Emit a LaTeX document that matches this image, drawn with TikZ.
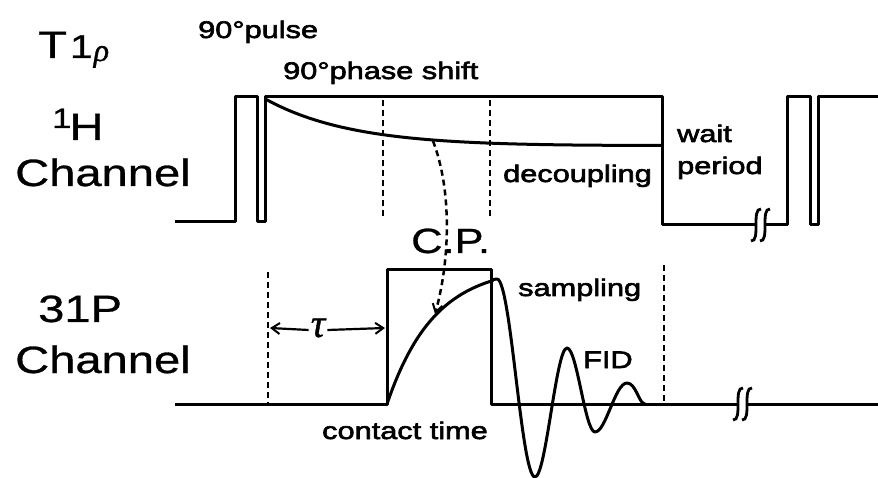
\documentclass[tikz,border=0pt]{standalone}
\usepackage{fontspec}
\setmainfont{Liberation Sans}
\newfontfamily\bigf[FakeStretch=1.24,FakeBold=0.8]{Liberation Sans}
\newfontfamily\smf[FakeStretch=1.28,FakeBold=2.6]{Liberation Sans}
\newfontfamily\grkf[FakeBold=1]{Liberation Serif}
\usetikzlibrary{arrows.meta}
\begin{document}
\begin{tikzpicture}[x=1pt,y=-1pt,
  wave/.style={line width=3pt, line join=round},
  guide/.style={line width=2.5pt, dash pattern=on 6pt off 4pt},
  big/.style={inner sep=0pt, anchor=base west, font=\bigf\fontsize{38}{38}\selectfont},
  lab/.style={inner sep=0pt, anchor=base west, font=\smf\fontsize{24}{24}\selectfont},
  grk/.style={inner sep=0pt, anchor=base west, font=\grkf\itshape\fontsize{40}{40}\selectfont},
  tipline/.style={line width=2.2pt, -{Straight Barb[length=8pt,width=11pt,line width=2pt]}},
  brk/.pic={\draw[line width=2.8pt] (5,-16) .. controls (-5,-17) and (5,17) .. (-5,16);}]
\useasboundingbox (0,0) rectangle (878,478);

% labels
\node[big] (T1rho) at (38,58) {T\hspace{3pt}{\fontsize{33}{33}\selectfont 1}\hspace{1pt}{\grkf\itshape\fontsize{32}{32}\selectfont\raisebox{-3pt}{ρ}}};
\node[lab] (pulse) at (198,38) {90°pulse};
\node[lab] (shift) at (283,79) {90°phase shift};
\node[big] (H) at (52,140) {{\fontsize{28}{28}\selectfont\raisebox{12pt}{1}}\hspace{-2pt}H};
\node[big] (chA) at (15,186) {Channel};
\node[lab] (dec) at (503,182) {decoupling};
\node[lab] (wait) at (677,142) {wait};
\node[lab] (period) at (677,174) {period};
\node[big, font=\bigf\fontsize{35}{35}\selectfont] (cp) at (411,253) {C.P.};
\node[big] (P31) at (38,322) {31P};
\node[big] (chB) at (15,373) {Channel};
\node[lab] (samp) at (518,296) {sampling};
\node[lab] (fid) at (583,368) {FID};
\node[lab] (contact) at (322,439) {contact time};
\node[grk, anchor=center] (tau) at (318,328) {τ};

% 1H channel
\draw[wave] (175,222) -- (235,222) -- (235,97) -- (257,97) -- (257,222) -- (265,222)
  -- (265,97) -- (662,97) -- (662,225) -- (756,225);
\draw[wave] (765,225) -- (787,225) -- (787,97) -- (810,97) -- (810,225) -- (818,225)
  -- (818,97) -- (880,97);
\pic at (756,225) {brk};
\pic at (765,225) {brk};
\draw[wave] plot[domain=266:662, samples=80] (\x, {147-0.006*(\x-490)-49*exp(-(\x-266)/88)});

% 31P channel
\draw[wave] (175,404) -- (387,404) -- (387,270) -- (491,270) -- (491,404) -- (738,404);
\draw[wave] (747,404) -- (880,404);
\pic at (738,404) {brk};
\pic at (747,404) {brk};
\draw[wave] plot[domain=387:491, samples=50] (\x, {404-138*(1-exp(-(\x-387)/47))});
\draw[wave] (491,283) .. controls (493,279) and (494,279) .. (497,279)
  .. controls (511,279) and (521,477) .. (535,477)
  .. controls (546,477) and (556,348) .. (567,348)
  .. controls (577,348) and (585,432) .. (595,432)
  .. controls (606,432) and (615,383) .. (627,383)
  .. controls (636,383) and (639,404) .. (645,404);

% guides
\draw[guide] (383,100) -- (383,217);
\draw[guide] (490,100) -- (490,218);
\draw[guide] (268,272) -- (268,404);
\draw[guide] (664,265) -- (664,404);

% transfer arrow
\coordinate (cpfrom) at (433,141);
\coordinate (cpto) at (435,314);
\draw[guide, -{Straight Barb[length=8pt,width=10pt,line width=2pt]}] (cpfrom) .. controls (452,190) and (450,260) .. (cpto);

% tau arrows
\coordinate (tauL) at (270,328);
\coordinate (tauR) at (385,328);
\draw[tipline] (tau.west) ++(-2,2) -- (tauL);
\draw[tipline] (tau.east) ++(2,2) -- (tauR);
\end{tikzpicture}
\end{document}
